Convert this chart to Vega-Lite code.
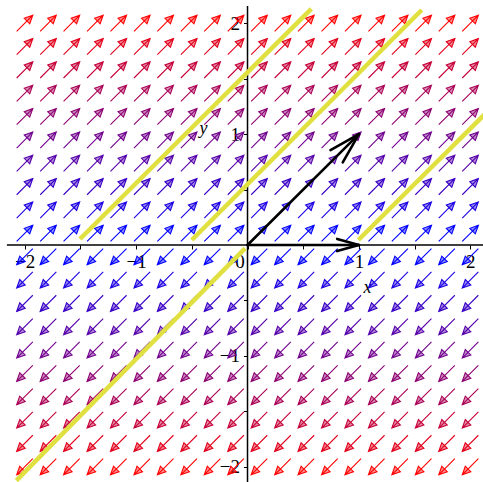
{
  "$schema": "https://vega.github.io/schema/vega-lite/v6.json",
  "width": 483,
  "height": 482,
  "padding": 0,
  "autosize": {"type": "none"},
  "background": "white",
  "config": {"view": {"stroke": null}},
  "datasets": {
    "field": [
      {"x":-2,"y":2},{"x":-1.789,"y":2},{"x":-1.579,"y":2},{"x":-1.368,"y":2},{"x":-1.158,"y":2},{"x":-0.947,"y":2},{"x":-0.737,"y":2},{"x":-0.526,"y":2},{"x":-0.316,"y":2},{"x":-0.105,"y":2},{"x":0.105,"y":2},{"x":0.316,"y":2},{"x":0.526,"y":2},{"x":0.737,"y":2},{"x":0.947,"y":2},{"x":1.158,"y":2},{"x":1.368,"y":2},{"x":1.579,"y":2},{"x":1.789,"y":2},{"x":2,"y":2},
      {"x":-2,"y":1.789},{"x":-1.789,"y":1.789},{"x":-1.579,"y":1.789},{"x":-1.368,"y":1.789},{"x":-1.158,"y":1.789},{"x":-0.947,"y":1.789},{"x":-0.737,"y":1.789},{"x":-0.526,"y":1.789},{"x":-0.316,"y":1.789},{"x":-0.105,"y":1.789},{"x":0.105,"y":1.789},{"x":0.316,"y":1.789},{"x":0.526,"y":1.789},{"x":0.737,"y":1.789},{"x":0.947,"y":1.789},{"x":1.158,"y":1.789},{"x":1.368,"y":1.789},{"x":1.579,"y":1.789},{"x":1.789,"y":1.789},{"x":2,"y":1.789},
      {"x":-2,"y":1.579},{"x":-1.789,"y":1.579},{"x":-1.579,"y":1.579},{"x":-1.368,"y":1.579},{"x":-1.158,"y":1.579},{"x":-0.947,"y":1.579},{"x":-0.737,"y":1.579},{"x":-0.526,"y":1.579},{"x":-0.316,"y":1.579},{"x":-0.105,"y":1.579},{"x":0.105,"y":1.579},{"x":0.316,"y":1.579},{"x":0.526,"y":1.579},{"x":0.737,"y":1.579},{"x":0.947,"y":1.579},{"x":1.158,"y":1.579},{"x":1.368,"y":1.579},{"x":1.579,"y":1.579},{"x":1.789,"y":1.579},{"x":2,"y":1.579},
      {"x":-2,"y":1.368},{"x":-1.789,"y":1.368},{"x":-1.579,"y":1.368},{"x":-1.368,"y":1.368},{"x":-1.158,"y":1.368},{"x":-0.947,"y":1.368},{"x":-0.737,"y":1.368},{"x":-0.526,"y":1.368},{"x":-0.316,"y":1.368},{"x":-0.105,"y":1.368},{"x":0.105,"y":1.368},{"x":0.316,"y":1.368},{"x":0.526,"y":1.368},{"x":0.737,"y":1.368},{"x":0.947,"y":1.368},{"x":1.158,"y":1.368},{"x":1.368,"y":1.368},{"x":1.579,"y":1.368},{"x":1.789,"y":1.368},{"x":2,"y":1.368},
      {"x":-2,"y":1.158},{"x":-1.789,"y":1.158},{"x":-1.579,"y":1.158},{"x":-1.368,"y":1.158},{"x":-1.158,"y":1.158},{"x":-0.947,"y":1.158},{"x":-0.737,"y":1.158},{"x":-0.526,"y":1.158},{"x":-0.316,"y":1.158},{"x":-0.105,"y":1.158},{"x":0.105,"y":1.158},{"x":0.316,"y":1.158},{"x":0.526,"y":1.158},{"x":0.737,"y":1.158},{"x":0.947,"y":1.158},{"x":1.158,"y":1.158},{"x":1.368,"y":1.158},{"x":1.579,"y":1.158},{"x":1.789,"y":1.158},{"x":2,"y":1.158},
      {"x":-2,"y":0.947},{"x":-1.789,"y":0.947},{"x":-1.579,"y":0.947},{"x":-1.368,"y":0.947},{"x":-1.158,"y":0.947},{"x":-0.947,"y":0.947},{"x":-0.737,"y":0.947},{"x":-0.526,"y":0.947},{"x":-0.316,"y":0.947},{"x":-0.105,"y":0.947},{"x":0.105,"y":0.947},{"x":0.316,"y":0.947},{"x":0.526,"y":0.947},{"x":0.737,"y":0.947},{"x":0.947,"y":0.947},{"x":1.158,"y":0.947},{"x":1.368,"y":0.947},{"x":1.579,"y":0.947},{"x":1.789,"y":0.947},{"x":2,"y":0.947},
      {"x":-2,"y":0.737},{"x":-1.789,"y":0.737},{"x":-1.579,"y":0.737},{"x":-1.368,"y":0.737},{"x":-1.158,"y":0.737},{"x":-0.947,"y":0.737},{"x":-0.737,"y":0.737},{"x":-0.526,"y":0.737},{"x":-0.316,"y":0.737},{"x":-0.105,"y":0.737},{"x":0.105,"y":0.737},{"x":0.316,"y":0.737},{"x":0.526,"y":0.737},{"x":0.737,"y":0.737},{"x":0.947,"y":0.737},{"x":1.158,"y":0.737},{"x":1.368,"y":0.737},{"x":1.579,"y":0.737},{"x":1.789,"y":0.737},{"x":2,"y":0.737},
      {"x":-2,"y":0.526},{"x":-1.789,"y":0.526},{"x":-1.579,"y":0.526},{"x":-1.368,"y":0.526},{"x":-1.158,"y":0.526},{"x":-0.947,"y":0.526},{"x":-0.737,"y":0.526},{"x":-0.526,"y":0.526},{"x":-0.316,"y":0.526},{"x":-0.105,"y":0.526},{"x":0.105,"y":0.526},{"x":0.316,"y":0.526},{"x":0.526,"y":0.526},{"x":0.737,"y":0.526},{"x":0.947,"y":0.526},{"x":1.158,"y":0.526},{"x":1.368,"y":0.526},{"x":1.579,"y":0.526},{"x":1.789,"y":0.526},{"x":2,"y":0.526},
      {"x":-2,"y":0.316},{"x":-1.789,"y":0.316},{"x":-1.579,"y":0.316},{"x":-1.368,"y":0.316},{"x":-1.158,"y":0.316},{"x":-0.947,"y":0.316},{"x":-0.737,"y":0.316},{"x":-0.526,"y":0.316},{"x":-0.316,"y":0.316},{"x":-0.105,"y":0.316},{"x":0.105,"y":0.316},{"x":0.316,"y":0.316},{"x":0.526,"y":0.316},{"x":0.737,"y":0.316},{"x":0.947,"y":0.316},{"x":1.158,"y":0.316},{"x":1.368,"y":0.316},{"x":1.579,"y":0.316},{"x":1.789,"y":0.316},{"x":2,"y":0.316},
      {"x":-2,"y":0.105},{"x":-1.789,"y":0.105},{"x":-1.579,"y":0.105},{"x":-1.368,"y":0.105},{"x":-1.158,"y":0.105},{"x":-0.947,"y":0.105},{"x":-0.737,"y":0.105},{"x":-0.526,"y":0.105},{"x":-0.316,"y":0.105},{"x":-0.105,"y":0.105},{"x":0.105,"y":0.105},{"x":0.316,"y":0.105},{"x":0.526,"y":0.105},{"x":0.737,"y":0.105},{"x":0.947,"y":0.105},{"x":1.158,"y":0.105},{"x":1.368,"y":0.105},{"x":1.579,"y":0.105},{"x":1.789,"y":0.105},{"x":2,"y":0.105},
      {"x":-2,"y":-0.105},{"x":-1.789,"y":-0.105},{"x":-1.579,"y":-0.105},{"x":-1.368,"y":-0.105},{"x":-1.158,"y":-0.105},{"x":-0.947,"y":-0.105},{"x":-0.737,"y":-0.105},{"x":-0.526,"y":-0.105},{"x":-0.316,"y":-0.105},{"x":-0.105,"y":-0.105},{"x":0.105,"y":-0.105},{"x":0.316,"y":-0.105},{"x":0.526,"y":-0.105},{"x":0.737,"y":-0.105},{"x":0.947,"y":-0.105},{"x":1.158,"y":-0.105},{"x":1.368,"y":-0.105},{"x":1.579,"y":-0.105},{"x":1.789,"y":-0.105},{"x":2,"y":-0.105},
      {"x":-2,"y":-0.316},{"x":-1.789,"y":-0.316},{"x":-1.579,"y":-0.316},{"x":-1.368,"y":-0.316},{"x":-1.158,"y":-0.316},{"x":-0.947,"y":-0.316},{"x":-0.737,"y":-0.316},{"x":-0.526,"y":-0.316},{"x":-0.316,"y":-0.316},{"x":-0.105,"y":-0.316},{"x":0.105,"y":-0.316},{"x":0.316,"y":-0.316},{"x":0.526,"y":-0.316},{"x":0.737,"y":-0.316},{"x":0.947,"y":-0.316},{"x":1.158,"y":-0.316},{"x":1.368,"y":-0.316},{"x":1.579,"y":-0.316},{"x":1.789,"y":-0.316},{"x":2,"y":-0.316},
      {"x":-2,"y":-0.526},{"x":-1.789,"y":-0.526},{"x":-1.579,"y":-0.526},{"x":-1.368,"y":-0.526},{"x":-1.158,"y":-0.526},{"x":-0.947,"y":-0.526},{"x":-0.737,"y":-0.526},{"x":-0.526,"y":-0.526},{"x":-0.316,"y":-0.526},{"x":-0.105,"y":-0.526},{"x":0.105,"y":-0.526},{"x":0.316,"y":-0.526},{"x":0.526,"y":-0.526},{"x":0.737,"y":-0.526},{"x":0.947,"y":-0.526},{"x":1.158,"y":-0.526},{"x":1.368,"y":-0.526},{"x":1.579,"y":-0.526},{"x":1.789,"y":-0.526},{"x":2,"y":-0.526},
      {"x":-2,"y":-0.737},{"x":-1.789,"y":-0.737},{"x":-1.579,"y":-0.737},{"x":-1.368,"y":-0.737},{"x":-1.158,"y":-0.737},{"x":-0.947,"y":-0.737},{"x":-0.737,"y":-0.737},{"x":-0.526,"y":-0.737},{"x":-0.316,"y":-0.737},{"x":-0.105,"y":-0.737},{"x":0.105,"y":-0.737},{"x":0.316,"y":-0.737},{"x":0.526,"y":-0.737},{"x":0.737,"y":-0.737},{"x":0.947,"y":-0.737},{"x":1.158,"y":-0.737},{"x":1.368,"y":-0.737},{"x":1.579,"y":-0.737},{"x":1.789,"y":-0.737},{"x":2,"y":-0.737},
      {"x":-2,"y":-0.947},{"x":-1.789,"y":-0.947},{"x":-1.579,"y":-0.947},{"x":-1.368,"y":-0.947},{"x":-1.158,"y":-0.947},{"x":-0.947,"y":-0.947},{"x":-0.737,"y":-0.947},{"x":-0.526,"y":-0.947},{"x":-0.316,"y":-0.947},{"x":-0.105,"y":-0.947},{"x":0.105,"y":-0.947},{"x":0.316,"y":-0.947},{"x":0.526,"y":-0.947},{"x":0.737,"y":-0.947},{"x":0.947,"y":-0.947},{"x":1.158,"y":-0.947},{"x":1.368,"y":-0.947},{"x":1.579,"y":-0.947},{"x":1.789,"y":-0.947},{"x":2,"y":-0.947},
      {"x":-2,"y":-1.158},{"x":-1.789,"y":-1.158},{"x":-1.579,"y":-1.158},{"x":-1.368,"y":-1.158},{"x":-1.158,"y":-1.158},{"x":-0.947,"y":-1.158},{"x":-0.737,"y":-1.158},{"x":-0.526,"y":-1.158},{"x":-0.316,"y":-1.158},{"x":-0.105,"y":-1.158},{"x":0.105,"y":-1.158},{"x":0.316,"y":-1.158},{"x":0.526,"y":-1.158},{"x":0.737,"y":-1.158},{"x":0.947,"y":-1.158},{"x":1.158,"y":-1.158},{"x":1.368,"y":-1.158},{"x":1.579,"y":-1.158},{"x":1.789,"y":-1.158},{"x":2,"y":-1.158},
      {"x":-2,"y":-1.368},{"x":-1.789,"y":-1.368},{"x":-1.579,"y":-1.368},{"x":-1.368,"y":-1.368},{"x":-1.158,"y":-1.368},{"x":-0.947,"y":-1.368},{"x":-0.737,"y":-1.368},{"x":-0.526,"y":-1.368},{"x":-0.316,"y":-1.368},{"x":-0.105,"y":-1.368},{"x":0.105,"y":-1.368},{"x":0.316,"y":-1.368},{"x":0.526,"y":-1.368},{"x":0.737,"y":-1.368},{"x":0.947,"y":-1.368},{"x":1.158,"y":-1.368},{"x":1.368,"y":-1.368},{"x":1.579,"y":-1.368},{"x":1.789,"y":-1.368},{"x":2,"y":-1.368},
      {"x":-2,"y":-1.579},{"x":-1.789,"y":-1.579},{"x":-1.579,"y":-1.579},{"x":-1.368,"y":-1.579},{"x":-1.158,"y":-1.579},{"x":-0.947,"y":-1.579},{"x":-0.737,"y":-1.579},{"x":-0.526,"y":-1.579},{"x":-0.316,"y":-1.579},{"x":-0.105,"y":-1.579},{"x":0.105,"y":-1.579},{"x":0.316,"y":-1.579},{"x":0.526,"y":-1.579},{"x":0.737,"y":-1.579},{"x":0.947,"y":-1.579},{"x":1.158,"y":-1.579},{"x":1.368,"y":-1.579},{"x":1.579,"y":-1.579},{"x":1.789,"y":-1.579},{"x":2,"y":-1.579},
      {"x":-2,"y":-1.789},{"x":-1.789,"y":-1.789},{"x":-1.579,"y":-1.789},{"x":-1.368,"y":-1.789},{"x":-1.158,"y":-1.789},{"x":-0.947,"y":-1.789},{"x":-0.737,"y":-1.789},{"x":-0.526,"y":-1.789},{"x":-0.316,"y":-1.789},{"x":-0.105,"y":-1.789},{"x":0.105,"y":-1.789},{"x":0.316,"y":-1.789},{"x":0.526,"y":-1.789},{"x":0.737,"y":-1.789},{"x":0.947,"y":-1.789},{"x":1.158,"y":-1.789},{"x":1.368,"y":-1.789},{"x":1.579,"y":-1.789},{"x":1.789,"y":-1.789},{"x":2,"y":-1.789},
      {"x":-2,"y":-2},{"x":-1.789,"y":-2},{"x":-1.579,"y":-2},{"x":-1.368,"y":-2},{"x":-1.158,"y":-2},{"x":-0.947,"y":-2},{"x":-0.737,"y":-2},{"x":-0.526,"y":-2},{"x":-0.316,"y":-2},{"x":-0.105,"y":-2},{"x":0.105,"y":-2},{"x":0.316,"y":-2},{"x":0.526,"y":-2},{"x":0.737,"y":-2},{"x":0.947,"y":-2},{"x":1.158,"y":-2},{"x":1.368,"y":-2},{"x":1.579,"y":-2},{"x":1.789,"y":-2},{"x":2,"y":-2}
    ],
    "orbits": [
      {"c":"a","x":-1.504,"y":0.054},{"c":"a","x":0.573,"y":2.13},
      {"c":"b","x":-0.5,"y":0.045},{"c":"b","x":1.564,"y":2.12},
      {"c":"c","x":0.995,"y":0.045},{"c":"c","x":2.4,"y":1.45},
      {"c":"d","x":-2.075,"y":-2.125},{"c":"d","x":-0.022,"y":-0.03}
    ],
    "coordAxes": [
      {"x":-2.16,"y":0,"x2":2.3,"y2":0},
      {"x":0,"y":2.155,"x2":0,"y2":-2.3}
    ],
    "eigen": [
      {"x":0,"y":0,"x2":1,"y2":0},
      {"x":0.805,"y":0.055,"x2":1,"y2":0},
      {"x":0.805,"y":-0.055,"x2":1,"y2":0},
      {"x":0,"y":0,"x2":1,"y2":1},
      {"x":0.745,"y":0.855,"x2":1,"y2":1},
      {"x":0.855,"y":0.745,"x2":1,"y2":1}
    ]
  },
  "layer": [
    {
      "data": {"name": "field"},
      "mark": {
        "type": "point",
        "shape": "M-1,0L1,0M1,0L0.28,-0.34L0.28,0.34Z",
        "size": 520,
        "filled": true,
        "opacity": 1,
        "fillOpacity": 0.45,
        "strokeWidth": 1.1
      },
      "encoding": {
        "x": {
          "field": "x", "type": "quantitative",
          "scale": {"domain": [-2.222, 2.114], "nice": false, "zero": false},
          "axis": {
            "values": [-2, -1.5, -1, -0.5, 0, 0.5, 1, 1.5, 2],
            "format": "~g",
            "labelExpr": "datum.value % 1 === 0 ? datum.label : ''",
            "domain": false, "grid": false,
            "ticks": true, "tickSize": 4, "tickColor": "black", "tickWidth": 1,
            "offset": -237,
            "labelFont": "Liberation Serif", "labelFontSize": 19, "labelColor": "black",
            "labelPadding": 3, "labelOverlap": false, "labelFlush": false,
            "labelOffset": {"condition": {"test": "datum.value === 0", "value": -8}, "value": 0},
            "title": "x",
            "titleFont": "Liberation Serif", "titleFontStyle": "italic", "titleFontWeight": "normal",
            "titleFontSize": 18, "titleColor": "black",
            "titleX": 367, "titleY": 42, "titleAngle": 0,
            "titleAlign": "center", "titleBaseline": "middle"
          }
        },
        "y": {
          "field": "y", "type": "quantitative",
          "scale": {"domain": [-2.138, 2.21], "nice": false, "zero": false},
          "axis": {
            "values": [-2, -1.5, -1, -0.5, 0.5, 1, 1.5, 2],
            "format": "~g",
            "labelExpr": "datum.value % 1 === 0 ? datum.label : ''",
            "domain": false, "grid": false,
            "ticks": true, "tickSize": 4, "tickColor": "black", "tickWidth": 1,
            "offset": -247.5,
            "labelFont": "Liberation Serif", "labelFontSize": 19, "labelColor": "black",
            "labelPadding": 4, "labelOverlap": false, "labelFlush": false,
            "title": "y",
            "titleFont": "Liberation Serif", "titleFontStyle": "italic", "titleFontWeight": "normal",
            "titleFontSize": 18, "titleColor": "black",
            "titleX": -44.5, "titleY": 128, "titleAngle": 0,
            "titleAlign": "center", "titleBaseline": "middle"
          }
        },
        "fill": {
          "field": "y", "type": "quantitative",
          "scale": {"domain": [-2, -0.105, 0.105, 2], "range": ["#ff0000", "#0000ff", "#0000ff", "#ff0000"], "interpolate": "rgb"},
          "legend": null
        },
        "stroke": {
          "field": "y", "type": "quantitative",
          "scale": {"domain": [-2, -0.105, 0.105, 2], "range": ["#ff0000", "#0000ff", "#0000ff", "#ff0000"], "interpolate": "rgb"},
          "legend": null
        },
        "angle": {"condition": {"test": "datum.y > 0", "value": 315}, "value": 135}
      }
    },
    {
      "data": {"name": "coordAxes"},
      "mark": {"type": "rule", "color": "black", "strokeWidth": 1.5, "clip": true},
      "encoding": {
        "x": {"field": "x", "type": "quantitative"},
        "y": {"field": "y", "type": "quantitative"},
        "x2": {"field": "x2"},
        "y2": {"field": "y2"}
      }
    },
    {
      "data": {"name": "orbits"},
      "mark": {"type": "line", "color": "#e0e040", "strokeWidth": 4.5, "clip": true},
      "encoding": {
        "x": {"field": "x", "type": "quantitative"},
        "y": {"field": "y", "type": "quantitative"},
        "detail": {"field": "c"}
      }
    },
    {
      "data": {"name": "eigen"},
      "mark": {"type": "rule", "color": "black", "strokeWidth": 2.6, "strokeCap": "round"},
      "encoding": {
        "x": {"field": "x", "type": "quantitative"},
        "y": {"field": "y", "type": "quantitative"},
        "x2": {"field": "x2"},
        "y2": {"field": "y2"}
      }
    }
  ]
}
